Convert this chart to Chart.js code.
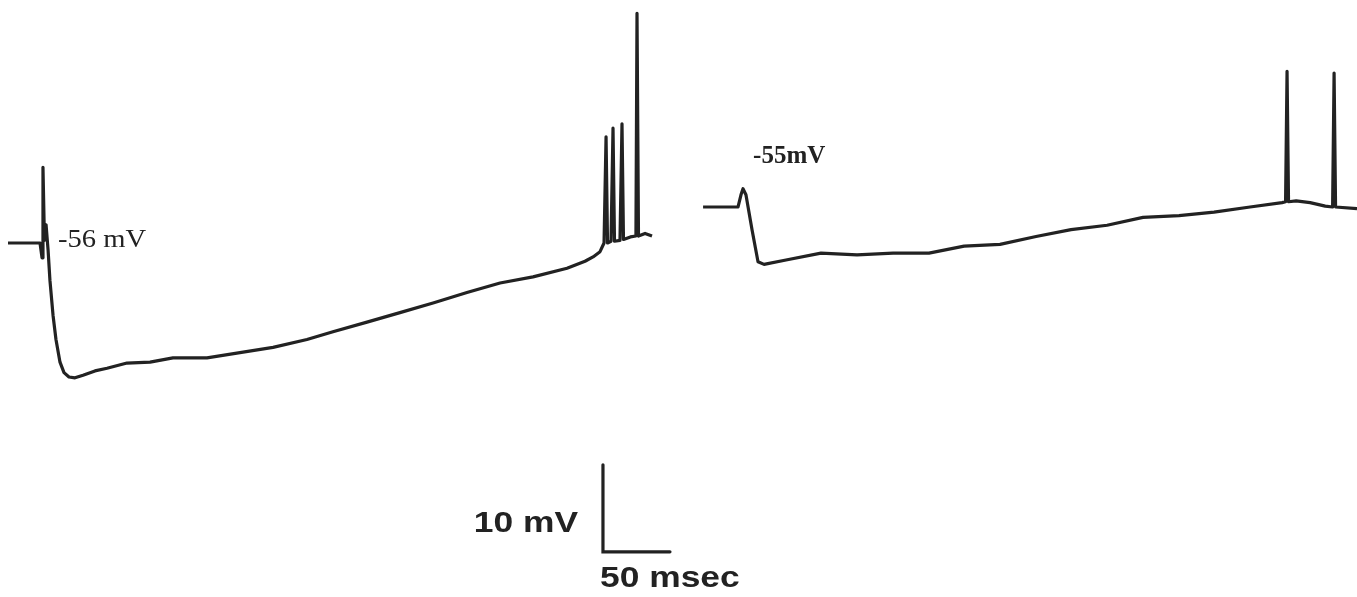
<!DOCTYPE html>
<html>
<head>
<meta charset="utf-8">
<script src="https://cdn.jsdelivr.net/npm/chart.js@4/dist/chart.umd.min.js"></script>
<style>
  html, body { margin: 0; padding: 0; background: #fff; }
  #wrap { width: 1357px; height: 597px; position: relative; }
</style>
</head>
<body>
<div id="wrap"><canvas id="trace"></canvas></div>
<script>
// sweep 1 (resting -56 mV): time in ms, membrane potential in mV
var sweep1Time = [0, 23.9, 24.6, 25.4, 26.1, 27.2, 28.4, 29.9, 31.3, 33.6, 35.8, 38.8, 41.8, 45.5, 50.0, 56.0,
  64.9, 73.9, 88.8, 106.0, 123.1, 148.5, 173.1, 197.8, 223.1, 242.5, 267.9, 292.5, 317.2, 342.5, 367.2,
  391.8, 417.2, 430.6, 436.6, 441.8, 444.8, 446.3, 447.4, 450.0, 451.5, 452.6, 456.7, 458.2, 459.3,
  464.5, 468.6, 469.4, 470.5, 475.4, 480.6];
var sweep1Volt = [-56, -56, -56, -57.7, -47.3, -55.7, -53.9, -56.8, -60.3, -64.3, -67.1, -69.7, -70.9, -71.4, -71.5, -71.2,
  -70.7, -70.4, -69.8, -69.7, -69.2, -69.2, -68.6, -68.0, -67.1, -66.2, -65.1, -64.0, -62.9, -61.7, -60.6,
  -59.9, -58.9, -58.1, -57.6, -57.0, -56.0, -43.8, -56.0, -55.8, -42.8, -55.8, -55.7, -42.3, -55.6,
  -55.3, -55.2, -29.6, -55.2, -54.9, -55.2];

// sweep 2 (resting -55 mV)
var sweep2Time = [518.7, 544.8, 547.0, 548.5, 550.7, 555.2, 559.7, 564.2, 580.6, 606.7, 633.6, 660.5, 687.3,
  713.5, 740.3, 767.2, 793.3, 820.2, 847.0, 873.9, 900.0, 926.9, 950.8, 953.4, 954.5, 955.6, 961.3, 971.7,
  983.0, 988.5, 989.6, 990.7, 1006.7];
var sweep2Volt = [-55, -55, -53.6, -52.9, -53.6, -57.6, -61.3, -61.6, -61.1, -60.3, -60.5, -60.3, -60.3,
  -59.5, -59.3, -58.4, -57.6, -57.1, -56.2, -56.0, -55.6, -55.0, -54.5, -54.4, -39.4, -54.4, -54.3, -54.5,
  -54.9, -55.0, -39.6, -55.0, -55.2];

// calibration bar: 10 mV / 50 msec
var barTime = [444.0, 444.0, 494.0];
var barVolt = [-81.5, -91.5, -91.5];

var restLabels = ['-56 mV', '-55mV'];
var barLabels = ['10 mV', '50 msec'];

function toPoints(xs, ys) {
  return xs.map(function(x, i) { return { x: x, y: ys[i] }; });
}

function stretchedText(ctx, text, px, py, sx, align) {
  ctx.save();
  ctx.translate(px, py);
  ctx.scale(sx, 1);
  ctx.textAlign = align;
  ctx.fillText(text, 0, 0);
  ctx.restore();
}

var textPlugin = {
  id: 'traceText',
  afterDatasetsDraw: function(chart) {
    var ctx = chart.ctx;
    var x = chart.scales.x, y = chart.scales.y, y2 = chart.scales.y2;
    ctx.save();
    ctx.fillStyle = '#222';
    ctx.textBaseline = 'alphabetic';
    ctx.font = '26px "Liberation Serif", serif';
    stretchedText(ctx, restLabels[0], x.getPixelForValue(37.3), y.getPixelForValue(-56.46), 1.1, 'left');
    ctx.font = 'bold 25px "Liberation Serif", serif';
    stretchedText(ctx, restLabels[1], x.getPixelForValue(556.0), y2.getPixelForValue(-49.94), 1, 'left');
    ctx.font = 'bold 29px "Liberation Sans", Arial, sans-serif';
    stretchedText(ctx, barLabels[0], x.getPixelForValue(425.4), y.getPixelForValue(-89.22), 1.22, 'right');
    stretchedText(ctx, barLabels[1], x.getPixelForValue(441.8), y.getPixelForValue(-95.54), 1.22, 'left');
    ctx.restore();
  }
};

var traceStyle = {
  borderColor: '#222',
  borderWidth: 3.2,
  pointRadius: 0,
  tension: 0,
  fill: false,
  borderJoinStyle: 'round'
};

new Chart(document.getElementById('trace'), {
  type: 'line',
  data: {
    datasets: [
      Object.assign({ label: 'sweep 1', data: toPoints(sweep1Time, sweep1Volt), yAxisID: 'y' }, traceStyle),
      Object.assign({ label: 'sweep 2', data: toPoints(sweep2Time, sweep2Volt), yAxisID: 'y2' }, traceStyle),
      Object.assign({ label: 'scale', data: toPoints(barTime, barVolt), yAxisID: 'y' }, traceStyle, { borderCapStyle: 'round', borderJoinStyle: 'miter' })
    ]
  },
  options: {
    responsive: true,
    maintainAspectRatio: false,
    animation: false,
    layout: { padding: 0 },
    plugins: { legend: { display: false }, tooltip: { enabled: false } },
    scales: {
      x: { type: 'linear', display: false, min: -5.97, max: 1006.7 },
      y: { type: 'linear', display: false, min: -96.69, max: -28.07 },
      y2: { type: 'linear', display: false, min: -99.83, max: -31.21 }
    }
  },
  plugins: [textPlugin]
});
</script>
</body>
</html>
